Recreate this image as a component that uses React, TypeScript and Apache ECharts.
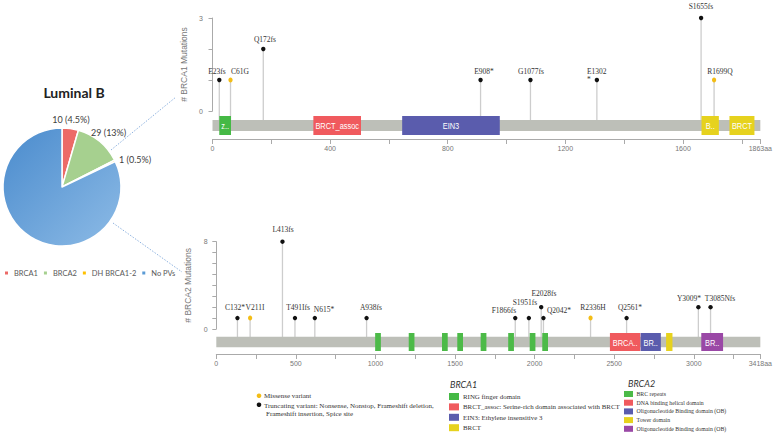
import React, { useEffect, useRef } from 'react';
import * as echarts from 'echarts';

// ---------- data ----------
const PIE_TITLE = 'Luminal B';
const PIE_CATEGORIES = ['BRCA1', 'BRCA2', 'DH BRCA1-2', 'No PVs'];
const PIE_VALUES = [10, 29, 1, 183];

const BRCA1_LENGTH = 1863;
const BRCA1_MUT_LABELS = ['E23fs', 'C61G', 'Q172fs', 'E908*', 'G1077fs', 'E1302*', 'S1655fs', 'R1699Q'];
const BRCA1_MUT_POS = [23, 61, 172, 908, 1077, 1302, 1655, 1699];
const BRCA1_MUT_COUNT = [1, 1, 2, 1, 1, 1, 3, 1];
const BRCA1_MUT_TYPE = ['T', 'M', 'T', 'T', 'T', 'T', 'T', 'M'];
const BRCA1_DOMAIN_NAMES = ['zf-C3HC4', 'BRCT_assoc', 'EIN3', 'BRCT', 'BRCT'];
const BRCA1_DOMAIN_TYPE = ['RING', 'BRCT_assoc', 'EIN3', 'BRCT', 'BRCT'];
const BRCA1_DOMAIN_START = [23, 343, 645, 1663, 1758];
const BRCA1_DOMAIN_END = [63, 505, 977, 1722, 1843];
const BRCA1_Y_MAX = 3;

const BRCA2_LENGTH = 3418;
const BRCA2_MUT_LABELS = ['C132*', 'V211I', 'L413fs', 'T491Ifs', 'N615*', 'A938fs', 'F1866fs', 'S1951fs', 'E2028fs', 'Q2042*', 'R2336H', 'Q2561*', 'Y3009*', 'T3085Nfs'];
const BRCA2_MUT_POS = [132, 211, 413, 491, 615, 938, 1866, 1951, 2028, 2042, 2336, 2561, 3009, 3085];
const BRCA2_MUT_COUNT = [1, 1, 8, 1, 1, 1, 1, 1, 2, 1, 1, 1, 2, 2];
const BRCA2_MUT_TYPE = ['T', 'M', 'T', 'T', 'T', 'T', 'T', 'T', 'T', 'T', 'M', 'T', 'T', 'T'];
const BRCA2_DOMAIN_NAMES = ['BRC', 'BRC', 'BRC', 'BRC', 'BRC', 'BRC', 'BRC', 'BRC', 'BRCA2_helical', 'BRCA-2_OB1', 'Tower', 'BRCA-2_OB3'];
const BRCA2_DOMAIN_TYPE = ['BRC', 'BRC', 'BRC', 'BRC', 'BRC', 'BRC', 'BRC', 'BRC', 'Helical', 'OB', 'Tower', 'OB3'];
const BRCA2_DOMAIN_START = [998, 1209, 1418, 1514, 1661, 1834, 1969, 2048, 2473, 2666, 2826, 3047];
const BRCA2_DOMAIN_END = [1034, 1245, 1454, 1550, 1697, 1870, 2005, 2084, 2664, 2793, 2866, 3184];
const BRCA2_Y_MAX = 8;

const MUT_LEGEND = ['Missense variant', 'Truncating variant: Nonsense, Nonstop, Frameshift deletion,', 'Frameshift insertion, Spice site'];
const BRCA1_LEGEND_TITLE = 'BRCA1';
const BRCA1_LEGEND = ['RING finger domain', 'BRCT_assoc: Serine-rich domain associated with BRCT', 'EIN3: Ethylene insensitive 3', 'BRCT'];
const BRCA1_LEGEND_TYPE = ['RING', 'BRCT_assoc', 'EIN3', 'BRCT'];
const BRCA2_LEGEND_TITLE = 'BRCA2';
const BRCA2_LEGEND = ['BRC repeats', 'DNA binding helical domain', 'Oligonucleotide Binding domain (OB)', 'Tower domain', 'Oligonucleotide Binding domain (OB)'];
const BRCA2_LEGEND_TYPE = ['BRC', 'Helical', 'OB', 'Tower', 'OB3'];

// ---------- styles / layout ----------
const PIE_COLORS = ['#ec6a67', '#a6d08f', '#ffc000', '#5b9bd5'];
const DOMAIN_COLORS: Record<string, string> = {
  RING: '#45b945', BRC: '#4cba48',
  BRCT_assoc: '#f05a5e', Helical: '#f05a5e',
  EIN3: '#5a5cad', OB: '#5a5cad',
  BRCT: '#e6d21e', Tower: '#e6d21e',
  OB3: '#9a48a6',
};
const MISSENSE_COLOR = '#f3bd16';
const TRUNC_COLOR = '#111111';
const LABEL_COLOR = '#333333';
const SERIF = '"Liberation Serif", "DejaVu Serif", serif';
const SANS = '"Liberation Sans", Arial, sans-serif';

// label nudges (px) relative to the dot: dx = centre offset, dy = vertical offset
const LABEL_NUDGE: Record<string, { dx?: number; dy?: number; wrap?: boolean }> = {
  'E23fs': { dx: -2, dy: -9 },
  'C61G': { dx: 9, dy: -9 },
  'Q172fs': { dx: 2, dy: -10.5 },
  'E908*': { dx: 3, dy: -9 },
  'G1077fs': { dx: 1, dy: -9 },
  'E1302*': { dx: -9.4, dy: -5, wrap: true },
  'S1655fs': { dx: 0, dy: -12 },
  'R1699Q': { dx: 6, dy: -9 },
  'C132*': { dx: -2, dy: -10.7 },
  'V211I': { dx: 5, dy: -10.7 },
  'L413fs': { dx: 1, dy: -12.7 },
  'T491Ifs': { dx: 3.5, dy: -10.7 },
  'N615*': { dx: 9, dy: -9.3 },
  'A938fs': { dx: 4, dy: -10.7 },
  'F1866fs': { dx: -11, dy: -8 },
  'S1951fs': { dx: -4, dy: -15.7 },
  'E2028fs': { dx: 2.3, dy: -14.6 },
  'Q2042*': { dx: 16, dy: -8 },
  'R2336H': { dx: 2, dy: -10.7 },
  'Q2561*': { dx: 3, dy: -10.7 },
  'Y3009*': { dx: -9.4, dy: -9.6 },
  'T3085Nfs': { dx: 9, dy: -9.6 },
};

const PIE_LABEL_POS: [number, number, string][] = [
  [71, 119, 'center'],
  [91, 132, 'left'],
  [119, 159, 'left'],
  [119, 208, 'left'],
];

function pctText(v: number, total: number) {
  const p = (v / total) * 100;
  return p < 10 ? (Math.round(p * 2) / 2).toFixed(1) : String(Math.round(p));
}

function lollipopSeries(xAxisIndex: number, yAxisIndex: number, labels: string[], pos: number[], counts: number[], types: string[], stemDrop: number) {
  return {
    type: 'custom',
    xAxisIndex,
    yAxisIndex,
    z: 3,
    clip: false,
    silent: true,
    itemStyle: { color: LABEL_COLOR },
    data: pos.map((p, i) => [p, counts[i], i]),
    renderItem: (params: any, api: any) => {
      const i = api.value(2);
      const top = api.coord([api.value(0), api.value(1)]);
      const base = api.coord([api.value(0), 0]);
      const label = labels[i];
      const n = LABEL_NUDGE[label] || {};
      const dx = n.dx ?? 1;
      const dy = n.dy ?? -10.5;
      const text = n.wrap ? label.slice(0, -1) + '\n' + label.slice(-1) : label;
      const miss = types[i] === 'M';
      return {
        type: 'group',
        children: [
          { type: 'line', shape: { x1: top[0], y1: top[1], x2: top[0], y2: base[1] + stemDrop }, style: { stroke: '#cdcdcd', lineWidth: 1.3 } },
          miss
            ? { type: 'ellipse', shape: { cx: top[0], cy: top[1], rx: 2.1, ry: 2.5 }, style: { fill: MISSENSE_COLOR } }
            : { type: 'circle', shape: { cx: top[0], cy: top[1], r: 2.2 }, style: { fill: TRUNC_COLOR } },
          {
            type: 'text', x: Math.round(top[0] + dx), y: Math.round(top[1] + dy),
            style: { text, fontSize: 7.5, fontFamily: SERIF, fill: LABEL_COLOR, stroke: 'none', align: n.wrap ? 'left' : 'center', verticalAlign: 'middle', lineHeight: 8 },
          },
        ],
      };
    },
  };
}

function trackSeries(xAxisIndex: number, yAxisIndex: number, length: number, barH: number) {
  return {
    type: 'custom',
    xAxisIndex,
    yAxisIndex,
    z: 4,
    silent: true,
    data: [[0, length]],
    renderItem: (params: any, api: any) => {
      const a = api.coord([api.value(0), 0.5]);
      const b = api.coord([api.value(1), 0.5]);
      return { type: 'rect', shape: { x: a[0], y: a[1] - barH / 2, width: b[0] - a[0], height: barH }, style: { fill: '#bdbfb8' } };
    },
  };
}

const DOMAIN_TEXT_SCALE = 0.78;

function domainSeries(xAxisIndex: number, yAxisIndex: number, names: string[], types: string[], starts: number[], ends: number[], h: number) {
  return {
    type: 'custom',
    xAxisIndex,
    yAxisIndex,
    z: 5,
    silent: true,
    data: starts.map((s, i) => [s, ends[i], i]),
    renderItem: (params: any, api: any) => {
      const i = api.value(2);
      const a = api.coord([api.value(0), 0.5]);
      const b = api.coord([api.value(1), 0.5]);
      const w = b[0] - a[0];
      const children: any[] = [
        { type: 'rect', shape: { x: a[0], y: a[1] - h / 2, width: w, height: h }, style: { fill: DOMAIN_COLORS[types[i]] } },
      ];
      if (w > 10) {
        children.push({
          type: 'text', x: a[0] + w / 2, y: a[1] + 0.5, scaleX: DOMAIN_TEXT_SCALE,
          style: { text: names[i], fontSize: 9.5, fontFamily: SANS, fill: '#fff', align: 'center', verticalAlign: 'middle', width: (w - 3) / DOMAIN_TEXT_SCALE, overflow: 'truncate', ellipsis: '..' },
        });
      }
      return { type: 'group', children };
    },
  };
}

const axisLineStyle = { lineStyle: { color: '#aaaaaa', width: 1 } };

function yAxisCfg(gridIndex: number, max: number, name: string, offset: number) {
  return {
    type: 'value', gridIndex, min: 0, max, interval: 1, offset,
    name, nameLocation: 'middle', nameGap: 17,
    nameTextStyle: { fontSize: 8.5, fontFamily: SANS, color: '#777' },
    axisLine: { show: true, ...axisLineStyle },
    axisTick: { show: true, length: 4, lineStyle: { color: '#aaaaaa' } },
    axisLabel: { fontSize: 7, fontFamily: SANS, color: '#777', margin: 3, formatter: (v: number) => (v === 0 || v === max ? String(v) : '') },
    splitLine: { show: false },
  };
}

function xTrackAxis(gridIndex: number, length: number, interval: number, labelEvery: number) {
  return {
    type: 'value', gridIndex, min: 0, max: length, interval,
    axisLine: { show: true, ...axisLineStyle },
    axisTick: { show: true, length: 5, lineStyle: { color: '#aaaaaa' } },
    axisLabel: {
      fontSize: 7, fontFamily: SANS, color: '#777', margin: 6, interval: 0, showMaxLabel: true, showMinLabel: true,
      formatter: (v: number) => (v === length ? v + 'aa' : v % labelEvery === 0 ? String(v) : ''),
    },
    splitLine: { show: false },
  };
}

function legendGraphics() {
  const g: any[] = [];
  // mutation type legend
  g.push({ type: 'circle', shape: { cx: 259, cy: 395.7, r: 2.3 }, style: { fill: MISSENSE_COLOR } });
  g.push({ type: 'text', x: 264, y: 396, style: { text: MUT_LEGEND[0], fontSize: 7, fontFamily: SERIF, fill: LABEL_COLOR, verticalAlign: 'middle' } });
  g.push({ type: 'circle', shape: { cx: 259, cy: 404.7, r: 2.3 }, style: { fill: TRUNC_COLOR } });
  g.push({ type: 'text', x: 264, y: 405.7, style: { text: MUT_LEGEND[1], fontSize: 7, fontFamily: SERIF, fill: LABEL_COLOR, verticalAlign: 'middle' } });
  g.push({ type: 'text', x: 266, y: 414, style: { text: MUT_LEGEND[2], fontSize: 7, fontFamily: SERIF, fill: LABEL_COLOR, verticalAlign: 'middle' } });
  // BRCA1 domain legend
  g.push({ type: 'text', x: 450, y: 384, style: { text: BRCA1_LEGEND_TITLE, fontSize: 9, fontStyle: 'italic', fontFamily: 'Lato, sans-serif', fill: '#333', verticalAlign: 'middle' } });
  BRCA1_LEGEND.forEach((t, i) => {
    const y = 393 + i * 10.4;
    g.push({ type: 'rect', shape: { x: 449, y, width: 10, height: 7 }, style: { fill: DOMAIN_COLORS[BRCA1_LEGEND_TYPE[i]] } });
    g.push({ type: 'text', x: 463, y: y + 3.5, style: { text: t, fontSize: 6.9, fontFamily: SERIF, fill: LABEL_COLOR, verticalAlign: 'middle' } });
  });
  // BRCA2 domain legend
  g.push({ type: 'text', x: 628, y: 383, style: { text: BRCA2_LEGEND_TITLE, fontSize: 9, fontStyle: 'italic', fontFamily: 'Lato, sans-serif', fill: '#333', verticalAlign: 'middle' } });
  BRCA2_LEGEND.forEach((t, i) => {
    const y = 391 + i * 8.7;
    g.push({ type: 'rect', shape: { x: 624, y, width: 9, height: 6 }, style: { fill: DOMAIN_COLORS[BRCA2_LEGEND_TYPE[i]] } });
    g.push({ type: 'text', x: 636.5, y: y + 3, style: { text: t, fontSize: 5.8, fontFamily: SERIF, fill: LABEL_COLOR, verticalAlign: 'middle' } });
  });
  // pie title
  g.push({ type: 'text', x: 74, y: 92, style: { text: PIE_TITLE, fontSize: 14, fontWeight: 'bold', fontFamily: 'Lato, sans-serif', fill: '#222', align: 'center', verticalAlign: 'middle' } });
  // dotted connectors
  g.push({ type: 'line', shape: { x1: 111, y1: 150, x2: 176, y2: 97 }, style: { stroke: '#8fb3e0', lineWidth: 1, lineDash: [1.5, 1.5] } });
  g.push({ type: 'line', shape: { x1: 113, y1: 223, x2: 182, y2: 272 }, style: { stroke: '#8fb3e0', lineWidth: 1, lineDash: [1.5, 1.5] } });
  return g;
}

export default function App() {
  const ref = useRef<HTMLDivElement>(null);
  useEffect(() => {
    document.body.style.margin = '0';
    if (!ref.current) return;
    const chart = echarts.init(ref.current, undefined, { renderer: 'svg' });
    const total = PIE_VALUES.reduce((a, b) => a + b, 0);
    const pieData = PIE_CATEGORIES.map((name, i) => ({
      name,
      value: PIE_VALUES[i],
      itemStyle: {
        color: i === 3
          ? new echarts.graphic.LinearGradient(0, 0, 1, 1, [{ offset: 0, color: '#4a8bcd' }, { offset: 1, color: '#8dbbe6' }])
          : PIE_COLORS[i],
      },
    }));
    const option: any = {
      animation: false,
      backgroundColor: '#ffffff',
      legend: {
        data: PIE_CATEGORIES.map((n, i) => ({ name: n, itemStyle: { color: PIE_COLORS[i] } })),
        left: 3, top: 269, padding: 0, icon: 'rect', itemWidth: 5, itemHeight: 5, itemGap: 4,
        textStyle: { fontSize: 7.5, fontFamily: 'Lato, sans-serif', color: '#595959' },
        selectedMode: false,
      },
      grid: [
        { left: 212.5, top: 18, width: 550, height: 93 },
        { left: 212.5, top: 112, width: 550, height: 27 },
        { left: 216.3, top: 241.7, width: 547.6, height: 87.3 },
        { left: 216.3, top: 330, width: 547.6, height: 24 },
      ],
      xAxis: [
        { type: 'value', gridIndex: 0, min: 0, max: BRCA1_LENGTH, show: false },
        xTrackAxis(1, BRCA1_LENGTH, 200, 400),
        { type: 'value', gridIndex: 2, min: 0, max: BRCA2_LENGTH, show: false },
        xTrackAxis(3, BRCA2_LENGTH, 250, 500),
      ],
      yAxis: [
        yAxisCfg(0, BRCA1_Y_MAX, '# BRCA1 Mutations', 6.5),
        { type: 'value', gridIndex: 1, min: 0, max: 1, show: false },
        yAxisCfg(2, BRCA2_Y_MAX, '# BRCA2 Mutations', 5.6),
        { type: 'value', gridIndex: 3, min: 0, max: 1, show: false },
      ],
      series: [
        {
          type: 'pie',
          center: [62, 187],
          radius: 59,
          startAngle: 90,
          clockwise: true,
          silent: true,
          data: pieData,
          itemStyle: { borderColor: '#ffffff', borderWidth: 1.5 },
          label: {
            show: true,
            position: 'outside',
            fontSize: 9,
            fontFamily: 'Lato, sans-serif',
            color: '#404040',
            formatter: (p: any) => `${p.value} (${pctText(p.value, total)}%)`,
          },
          labelLine: { show: false },
          labelLayout: (p: any) => {
            const pos = PIE_LABEL_POS[p.dataIndex];
            return { x: pos[0], y: pos[1], align: pos[2], verticalAlign: 'middle' };
          },
        },
        trackSeries(1, 1, BRCA1_LENGTH, 11),
        domainSeries(1, 1, BRCA1_DOMAIN_NAMES, BRCA1_DOMAIN_TYPE, BRCA1_DOMAIN_START, BRCA1_DOMAIN_END, 19),
        lollipopSeries(0, 0, BRCA1_MUT_LABELS, BRCA1_MUT_POS, BRCA1_MUT_COUNT, BRCA1_MUT_TYPE, 12),
        trackSeries(3, 3, BRCA2_LENGTH, 10.3),
        domainSeries(3, 3, BRCA2_DOMAIN_NAMES, BRCA2_DOMAIN_TYPE, BRCA2_DOMAIN_START, BRCA2_DOMAIN_END, 18),
        lollipopSeries(2, 2, BRCA2_MUT_LABELS, BRCA2_MUT_POS, BRCA2_MUT_COUNT, BRCA2_MUT_TYPE, 11),
      ],
      graphic: legendGraphics(),
    };
    chart.setOption(option);
    return () => chart.dispose();
  }, []);
  return <div ref={ref} style={{ width: 775, height: 436 }} />;
}
